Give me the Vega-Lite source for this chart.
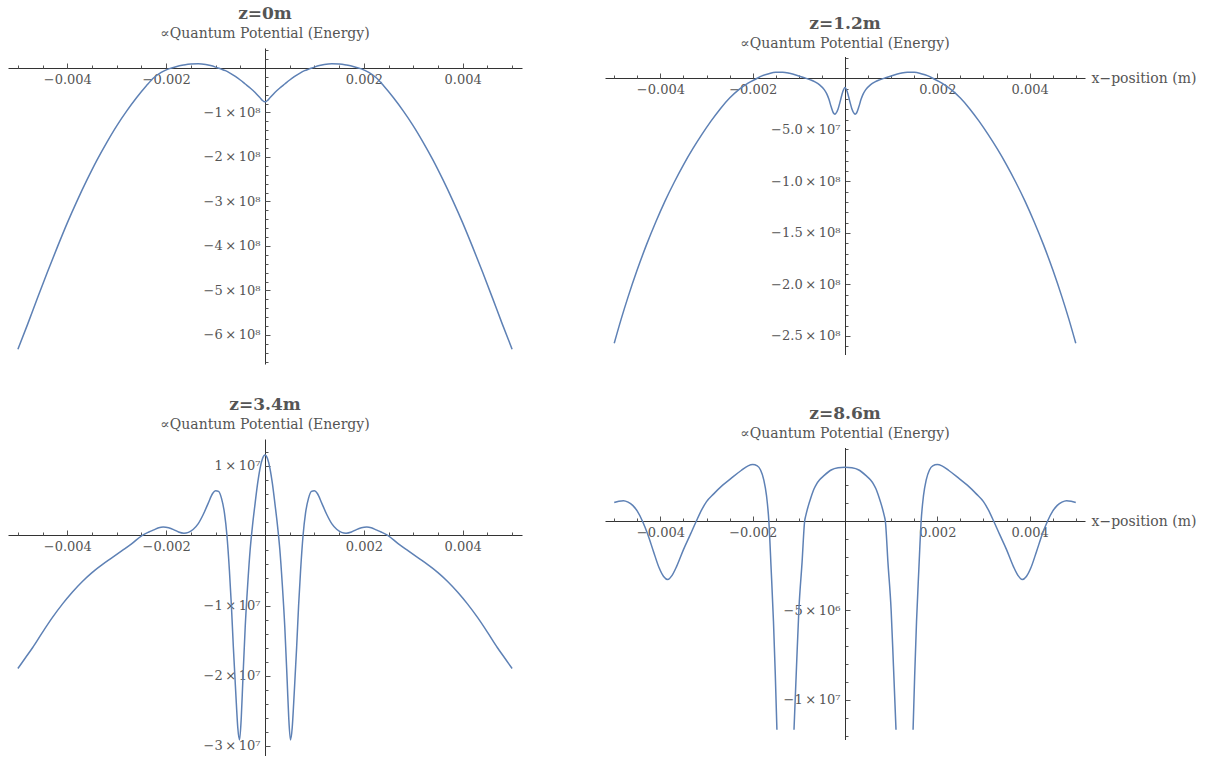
{
  "$schema": "https://vega.github.io/schema/vega-lite/v6.json",
  "background": "white",
  "padding": {"left": 8, "top": 5, "right": 5, "bottom": 0},
  "autosize": {"type": "pad"},
  "bounds": "flush",
  "align": "each",
  "columns": 2,
  "spacing": {"row": 75, "column": 83},
  "datasets": {
    "p1": [
      {"x": -0.005, "y": -6.32e8}, {"x": -0.0048, "y": -5.75e8}, {"x": -0.0046, "y": -5.16e8}, {"x": -0.0044, "y": -4.58e8},
      {"x": -0.0042, "y": -4.02e8}, {"x": -0.004, "y": -3.48e8}, {"x": -0.0038, "y": -2.98e8}, {"x": -0.0036, "y": -2.51e8},
      {"x": -0.0034, "y": -2.07e8}, {"x": -0.0032, "y": -1.67e8}, {"x": -0.003, "y": -1.3e8}, {"x": -0.0028, "y": -9.7e7},
      {"x": -0.0026, "y": -6.7e7}, {"x": -0.0024, "y": -4.0e7}, {"x": -0.00225, "y": -2.2e7}, {"x": -0.0021, "y": -1.0e7},
      {"x": -0.00195, "y": -2.0e6}, {"x": -0.0018, "y": 3.0e6}, {"x": -0.00165, "y": 6.5e6}, {"x": -0.0015, "y": 9.0e6},
      {"x": -0.00135, "y": 9.7e6}, {"x": -0.0012, "y": 8.0e6}, {"x": -0.0011, "y": 5.5e6}, {"x": -0.001, "y": 2.0e6},
      {"x": -0.0009, "y": -2.0e6}, {"x": -0.0008, "y": -6.0e6}, {"x": -0.0007, "y": -1.2e7}, {"x": -0.0006, "y": -1.9e7},
      {"x": -0.0005, "y": -2.7e7}, {"x": -0.0004, "y": -3.6e7}, {"x": -0.0003, "y": -4.5e7}, {"x": -0.0002, "y": -5.5e7},
      {"x": -0.0001, "y": -6.7e7}, {"x": -0.00005, "y": -7.3e7}, {"x": 0, "y": -7.6e7},
      {"x": 0.00005, "y": -7.3e7}, {"x": 0.0001, "y": -6.7e7}, {"x": 0.0002, "y": -5.5e7}, {"x": 0.0003, "y": -4.5e7},
      {"x": 0.0004, "y": -3.6e7}, {"x": 0.0005, "y": -2.7e7}, {"x": 0.0006, "y": -1.9e7}, {"x": 0.0007, "y": -1.2e7},
      {"x": 0.0008, "y": -6.0e6}, {"x": 0.0009, "y": -2.0e6}, {"x": 0.001, "y": 2.0e6}, {"x": 0.0011, "y": 5.5e6},
      {"x": 0.0012, "y": 8.0e6}, {"x": 0.00135, "y": 9.7e6}, {"x": 0.0015, "y": 9.0e6}, {"x": 0.00165, "y": 6.5e6},
      {"x": 0.0018, "y": 3.0e6}, {"x": 0.00195, "y": -2.0e6}, {"x": 0.0021, "y": -1.0e7}, {"x": 0.00225, "y": -2.2e7},
      {"x": 0.0024, "y": -4.0e7}, {"x": 0.0026, "y": -6.7e7}, {"x": 0.0028, "y": -9.7e7}, {"x": 0.003, "y": -1.3e8},
      {"x": 0.0032, "y": -1.67e8}, {"x": 0.0034, "y": -2.07e8}, {"x": 0.0036, "y": -2.51e8}, {"x": 0.0038, "y": -2.98e8},
      {"x": 0.004, "y": -3.48e8}, {"x": 0.0042, "y": -4.02e8}, {"x": 0.0044, "y": -4.58e8}, {"x": 0.0046, "y": -5.16e8},
      {"x": 0.0048, "y": -5.75e8}, {"x": 0.005, "y": -6.32e8}
    ],
    "p2": [
      {"x": -0.005, "y": -2.57e8}, {"x": -0.00485, "y": -2.336e8}, {"x": -0.0047, "y": -2.12e8}, {"x": -0.0045, "y": -1.855e8},
      {"x": -0.0043, "y": -1.613e8}, {"x": -0.0041, "y": -1.393e8}, {"x": -0.0039, "y": -1.19e8}, {"x": -0.0037, "y": -1.007e8},
      {"x": -0.0035, "y": -8.38e7}, {"x": -0.0033, "y": -6.84e7}, {"x": -0.0031, "y": -5.43e7}, {"x": -0.0029, "y": -4.12e7},
      {"x": -0.0027, "y": -2.93e7}, {"x": -0.0025, "y": -1.9e7}, {"x": -0.0023, "y": -1.085e7}, {"x": -0.0021, "y": -4.5e6},
      {"x": -0.00193, "y": -5.0e5}, {"x": -0.0018, "y": 2.5e6}, {"x": -0.00165, "y": 4.7e6}, {"x": -0.0015, "y": 6.0e6},
      {"x": -0.00135, "y": 6.1e6}, {"x": -0.0012, "y": 5.0e6}, {"x": -0.00105, "y": 3.2e6}, {"x": -0.0009, "y": 1.0e6},
      {"x": -0.00075, "y": -1.3e6}, {"x": -0.00065, "y": -3.3e6}, {"x": -0.00055, "y": -6.2e6}, {"x": -0.00045, "y": -1.08e7},
      {"x": -0.0004, "y": -1.45e7}, {"x": -0.00035, "y": -2.0e7}, {"x": -0.0003, "y": -2.75e7}, {"x": -0.00025, "y": -3.35e7},
      {"x": -0.00022, "y": -3.46e7}, {"x": -0.0002, "y": -3.4e7}, {"x": -0.00015, "y": -2.95e7}, {"x": -0.0001, "y": -2.15e7},
      {"x": -0.00005, "y": -1.3e7}, {"x": 0, "y": -8.7e6},
      {"x": 0.00005, "y": -1.3e7}, {"x": 0.0001, "y": -2.15e7}, {"x": 0.00015, "y": -2.95e7}, {"x": 0.0002, "y": -3.4e7},
      {"x": 0.00022, "y": -3.46e7}, {"x": 0.00025, "y": -3.35e7}, {"x": 0.0003, "y": -2.75e7}, {"x": 0.00035, "y": -2.0e7},
      {"x": 0.0004, "y": -1.45e7}, {"x": 0.00045, "y": -1.08e7}, {"x": 0.00055, "y": -6.2e6}, {"x": 0.00065, "y": -3.3e6},
      {"x": 0.00075, "y": -1.3e6}, {"x": 0.0009, "y": 1.0e6}, {"x": 0.00105, "y": 3.2e6}, {"x": 0.0012, "y": 5.0e6},
      {"x": 0.00135, "y": 6.1e6}, {"x": 0.0015, "y": 6.0e6}, {"x": 0.00165, "y": 4.7e6}, {"x": 0.0018, "y": 2.5e6},
      {"x": 0.00193, "y": -5.0e5}, {"x": 0.0021, "y": -4.5e6}, {"x": 0.0023, "y": -1.085e7}, {"x": 0.0025, "y": -1.9e7},
      {"x": 0.0027, "y": -2.93e7}, {"x": 0.0029, "y": -4.12e7}, {"x": 0.0031, "y": -5.43e7}, {"x": 0.0033, "y": -6.84e7},
      {"x": 0.0035, "y": -8.38e7}, {"x": 0.0037, "y": -1.007e8}, {"x": 0.0039, "y": -1.19e8}, {"x": 0.0041, "y": -1.393e8},
      {"x": 0.0043, "y": -1.613e8}, {"x": 0.0045, "y": -1.855e8}, {"x": 0.0047, "y": -2.12e8}, {"x": 0.00485, "y": -2.336e8},
      {"x": 0.005, "y": -2.57e8}
    ],
    "p3": [
      {"x": -0.005, "y": -1.9e7}, {"x": -0.00485, "y": -1.75e7}, {"x": -0.0047, "y": -1.6e7}, {"x": -0.0045, "y": -1.38e7},
      {"x": -0.0043, "y": -1.17e7}, {"x": -0.0041, "y": -9.8e6}, {"x": -0.0039, "y": -8.1e6}, {"x": -0.0037, "y": -6.6e6},
      {"x": -0.0035, "y": -5.3e6}, {"x": -0.0033, "y": -4.2e6}, {"x": -0.0031, "y": -3.2e6}, {"x": -0.0029, "y": -2.2e6},
      {"x": -0.0027, "y": -1.2e6}, {"x": -0.00249, "y": 0}, {"x": -0.00235, "y": 5.0e5}, {"x": -0.00225, "y": 8.0e5},
      {"x": -0.00215, "y": 1.1e6}, {"x": -0.00206, "y": 1.2e6}, {"x": -0.00195, "y": 1.1e6}, {"x": -0.00185, "y": 8.5e5},
      {"x": -0.00175, "y": 5.0e5}, {"x": -0.00164, "y": 3.3e5}, {"x": -0.00155, "y": 4.5e5}, {"x": -0.00145, "y": 9.0e5},
      {"x": -0.00135, "y": 1.7e6}, {"x": -0.00125, "y": 3.0e6}, {"x": -0.00115, "y": 4.6e6}, {"x": -0.00106, "y": 6.0e6},
      {"x": -0.001, "y": 6.4e6}, {"x": -0.00094, "y": 6.3e6}, {"x": -0.00088, "y": 5.3e6}, {"x": -0.00082, "y": 3.2e6},
      {"x": -0.00077, "y": 0}, {"x": -0.00072, "y": -5.0e6}, {"x": -0.00068, "y": -1.0e7}, {"x": -0.00064, "y": -1.6e7},
      {"x": -0.00061, "y": -2.0e7}, {"x": -0.00058, "y": -2.4e7}, {"x": -0.00055, "y": -2.75e7}, {"x": -0.000515, "y": -2.92e7},
      {"x": -0.00048, "y": -2.6e7}, {"x": -0.00045, "y": -2.1e7}, {"x": -0.0004, "y": -1.3e7}, {"x": -0.00035, "y": -7.0e6},
      {"x": -0.0003, "y": -2.0e6}, {"x": -0.00025, "y": 1.6e6}, {"x": -0.0002, "y": 4.6e6}, {"x": -0.00015, "y": 7.4e6},
      {"x": -0.0001, "y": 9.6e6}, {"x": -0.00005, "y": 1.1e7}, {"x": 0, "y": 1.15e7},
      {"x": 0.00005, "y": 1.1e7}, {"x": 0.0001, "y": 9.6e6}, {"x": 0.00015, "y": 7.4e6}, {"x": 0.0002, "y": 4.6e6},
      {"x": 0.00025, "y": 1.6e6}, {"x": 0.0003, "y": -2.0e6}, {"x": 0.00035, "y": -7.0e6}, {"x": 0.0004, "y": -1.3e7},
      {"x": 0.00045, "y": -2.1e7}, {"x": 0.00048, "y": -2.6e7}, {"x": 0.000515, "y": -2.92e7}, {"x": 0.00055, "y": -2.75e7},
      {"x": 0.00058, "y": -2.4e7}, {"x": 0.00061, "y": -2.0e7}, {"x": 0.00064, "y": -1.6e7}, {"x": 0.00068, "y": -1.0e7},
      {"x": 0.00072, "y": -5.0e6}, {"x": 0.00077, "y": 0}, {"x": 0.00082, "y": 3.2e6}, {"x": 0.00088, "y": 5.3e6},
      {"x": 0.00094, "y": 6.3e6}, {"x": 0.001, "y": 6.4e6}, {"x": 0.00106, "y": 6.0e6}, {"x": 0.00115, "y": 4.6e6},
      {"x": 0.00125, "y": 3.0e6}, {"x": 0.00135, "y": 1.7e6}, {"x": 0.00145, "y": 9.0e5}, {"x": 0.00155, "y": 4.5e5},
      {"x": 0.00164, "y": 3.3e5}, {"x": 0.00175, "y": 5.0e5}, {"x": 0.00185, "y": 8.5e5}, {"x": 0.00195, "y": 1.1e6},
      {"x": 0.00206, "y": 1.2e6}, {"x": 0.00215, "y": 1.1e6}, {"x": 0.00225, "y": 8.0e5}, {"x": 0.00235, "y": 5.0e5},
      {"x": 0.00249, "y": 0}, {"x": 0.0027, "y": -1.2e6}, {"x": 0.0029, "y": -2.2e6}, {"x": 0.0031, "y": -3.2e6},
      {"x": 0.0033, "y": -4.2e6}, {"x": 0.0035, "y": -5.3e6}, {"x": 0.0037, "y": -6.6e6}, {"x": 0.0039, "y": -8.1e6},
      {"x": 0.0041, "y": -9.8e6}, {"x": 0.0043, "y": -1.17e7}, {"x": 0.0045, "y": -1.38e7}, {"x": 0.0047, "y": -1.6e7},
      {"x": 0.00485, "y": -1.75e7}, {"x": 0.005, "y": -1.9e7}
    ],
    "p4": [
      {"s": "a", "x": -0.005, "y": 1.03e6}, {"s": "a", "x": -0.0049, "y": 1.1e6}, {"s": "a", "x": -0.0048, "y": 1.13e6},
      {"s": "a", "x": -0.0047, "y": 1.05e6}, {"s": "a", "x": -0.0046, "y": 8.7e5}, {"s": "a", "x": -0.0045, "y": 5.5e5},
      {"s": "a", "x": -0.00439, "y": 0}, {"s": "a", "x": -0.00428, "y": -7.0e5}, {"s": "a", "x": -0.00415, "y": -1.7e6},
      {"s": "a", "x": -0.00403, "y": -2.6e6}, {"s": "a", "x": -0.00393, "y": -3.1e6}, {"s": "a", "x": -0.00384, "y": -3.27e6},
      {"s": "a", "x": -0.00375, "y": -3.05e6}, {"s": "a", "x": -0.00365, "y": -2.55e6}, {"s": "a", "x": -0.0035, "y": -1.6e6},
      {"s": "a", "x": -0.00335, "y": -7.5e5}, {"s": "a", "x": -0.00322, "y": 0}, {"s": "a", "x": -0.0031, "y": 6.5e5},
      {"s": "a", "x": -0.003, "y": 1.08e6}, {"s": "a", "x": -0.00285, "y": 1.5e6}, {"s": "a", "x": -0.00265, "y": 2.0e6},
      {"s": "a", "x": -0.00245, "y": 2.42e6}, {"s": "a", "x": -0.00225, "y": 2.82e6}, {"s": "a", "x": -0.0021, "y": 3.08e6},
      {"s": "a", "x": -0.002, "y": 3.15e6}, {"s": "a", "x": -0.0019, "y": 3.08e6}, {"s": "a", "x": -0.00183, "y": 2.85e6},
      {"s": "a", "x": -0.00176, "y": 2.3e6}, {"s": "a", "x": -0.0017, "y": 1.4e6}, {"s": "a", "x": -0.00165, "y": 0},
      {"s": "a", "x": -0.0016, "y": -2.7e6}, {"s": "a", "x": -0.00155, "y": -5.6e6}, {"s": "a", "x": -0.00151, "y": -8.6e6},
      {"s": "a", "x": -0.001475, "y": -1.166e7},
      {"s": "b", "x": -0.001105, "y": -1.166e7}, {"s": "b", "x": -0.00105, "y": -8.1e6}, {"s": "b", "x": -0.001, "y": -5.0e6},
      {"s": "b", "x": -0.00093, "y": -2.3e6}, {"s": "b", "x": -0.000874, "y": 0}, {"s": "b", "x": -0.00085, "y": 3.0e5},
      {"s": "b", "x": -0.0008, "y": 8.0e5}, {"s": "b", "x": -0.00074, "y": 1.3e6}, {"s": "b", "x": -0.00067, "y": 1.8e6},
      {"s": "b", "x": -0.00062, "y": 2.05e6}, {"s": "b", "x": -0.00055, "y": 2.3e6}, {"s": "b", "x": -0.00045, "y": 2.55e6},
      {"s": "b", "x": -0.0003, "y": 2.85e6}, {"s": "b", "x": -0.00015, "y": 2.97e6}, {"s": "b", "x": 0, "y": 3.0e6},
      {"s": "b", "x": 0.00015, "y": 2.97e6}, {"s": "b", "x": 0.0003, "y": 2.85e6}, {"s": "b", "x": 0.00045, "y": 2.55e6},
      {"s": "b", "x": 0.00055, "y": 2.3e6}, {"s": "b", "x": 0.00062, "y": 2.05e6}, {"s": "b", "x": 0.00067, "y": 1.8e6},
      {"s": "b", "x": 0.00074, "y": 1.3e6}, {"s": "b", "x": 0.0008, "y": 8.0e5}, {"s": "b", "x": 0.00085, "y": 3.0e5},
      {"s": "b", "x": 0.000874, "y": 0}, {"s": "b", "x": 0.00093, "y": -2.3e6}, {"s": "b", "x": 0.001, "y": -5.0e6},
      {"s": "b", "x": 0.00105, "y": -8.1e6}, {"s": "b", "x": 0.001105, "y": -1.166e7},
      {"s": "c", "x": 0.001475, "y": -1.166e7}, {"s": "c", "x": 0.00151, "y": -8.6e6}, {"s": "c", "x": 0.00155, "y": -5.6e6},
      {"s": "c", "x": 0.0016, "y": -2.7e6}, {"s": "c", "x": 0.00165, "y": 0}, {"s": "c", "x": 0.0017, "y": 1.4e6},
      {"s": "c", "x": 0.00176, "y": 2.3e6}, {"s": "c", "x": 0.00183, "y": 2.85e6}, {"s": "c", "x": 0.0019, "y": 3.08e6},
      {"s": "c", "x": 0.002, "y": 3.15e6}, {"s": "c", "x": 0.0021, "y": 3.08e6}, {"s": "c", "x": 0.00225, "y": 2.82e6},
      {"s": "c", "x": 0.00245, "y": 2.42e6}, {"s": "c", "x": 0.00265, "y": 2.0e6}, {"s": "c", "x": 0.00285, "y": 1.5e6},
      {"s": "c", "x": 0.003, "y": 1.08e6}, {"s": "c", "x": 0.0031, "y": 6.5e5}, {"s": "c", "x": 0.00322, "y": 0},
      {"s": "c", "x": 0.00335, "y": -7.5e5}, {"s": "c", "x": 0.0035, "y": -1.6e6}, {"s": "c", "x": 0.00365, "y": -2.55e6},
      {"s": "c", "x": 0.00375, "y": -3.05e6}, {"s": "c", "x": 0.00384, "y": -3.27e6}, {"s": "c", "x": 0.00393, "y": -3.1e6},
      {"s": "c", "x": 0.00403, "y": -2.6e6}, {"s": "c", "x": 0.00415, "y": -1.7e6}, {"s": "c", "x": 0.00428, "y": -7.0e5},
      {"s": "c", "x": 0.00439, "y": 0}, {"s": "c", "x": 0.0045, "y": 5.5e5}, {"s": "c", "x": 0.0046, "y": 8.7e5},
      {"s": "c", "x": 0.0047, "y": 1.05e6}, {"s": "c", "x": 0.0048, "y": 1.13e6}, {"s": "c", "x": 0.0049, "y": 1.1e6},
      {"s": "c", "x": 0.005, "y": 1.03e6}
    ]
  },
  "concat": [
    {
      "width": 514, "height": 316,
      "data": {"name": "p1"},
      "title": {"text": "z=0m", "subtitle": "∝Quantum Potential (Energy)"},
      "resolve": {"axis": {"x": "independent", "y": "independent"}},
      "layer": [
        {
          "mark": {"type": "line", "color": "#5E81B5", "strokeWidth": 1.5, "interpolate": "monotone", "clip": true},
          "encoding": {
            "x": {"field": "x", "type": "quantitative", "scale": {"domain": [-0.0052, 0.0052], "nice": false, "zero": false},
                  "axis": {"orient": "bottom", "offset": -296, "values": [-0.004, -0.002, 0.002, 0.004], "format": ".3f", "ticks": false, "labelPadding": 5, "title": null}},
            "y": {"field": "y", "type": "quantitative", "scale": {"domain": [-6.652e8, 4.494e7], "nice": false, "zero": false},
                  "axis": {"orient": "left", "offset": -257, "values": [-1e8, -2e8, -3e8, -4e8, -5e8, -6e8], "labelExpr": "format(datum.value / 1e8, 'd') + '\u2009×\u200910⁸'", "ticks": false, "labelPadding": 5, "title": null}}
          }
        },
        {
          "mark": {"type": "line", "opacity": 0},
          "encoding": {
            "x": {"field": "x", "type": "quantitative", "scale": {"domain": [-0.0052, 0.0052], "nice": false, "zero": false},
                  "axis": {"orient": "bottom", "offset": -296, "values": [-0.004, -0.002, 0.002, 0.004], "labels": false, "domain": false, "tickSize": -5, "title": null}},
            "y": {"field": "y", "type": "quantitative", "scale": {"domain": [-6.652e8, 4.494e7], "nice": false, "zero": false},
                  "axis": {"orient": "left", "offset": -257, "values": [-1e8, -2e8, -3e8, -4e8, -5e8, -6e8], "labels": false, "domain": false, "tickSize": -5, "title": null}}
          }
        },
        {
          "mark": {"type": "line", "opacity": 0},
          "encoding": {
            "x": {"field": "x", "type": "quantitative", "scale": {"domain": [-0.0052, 0.0052], "nice": false, "zero": false},
                  "axis": {"orient": "bottom", "offset": -296, "values": [-0.005, -0.0045, -0.0035, -0.003, -0.0025, -0.0015, -0.001, -0.0005, 0.0005, 0.001, 0.0015, 0.0025, 0.003, 0.0035, 0.0045, 0.005], "labels": false, "domain": false, "tickSize": -3, "title": null}},
            "y": {"field": "y", "type": "quantitative", "scale": {"domain": [-6.652e8, 4.494e7], "nice": false, "zero": false},
                  "axis": {"orient": "left", "offset": -257, "values": [4e7, 2e7, -2e7, -4e7, -6e7, -8e7, -1.2e8, -1.4e8, -1.6e8, -1.8e8, -2.2e8, -2.4e8, -2.6e8, -2.8e8, -3.2e8, -3.4e8, -3.6e8, -3.8e8, -4.2e8, -4.4e8, -4.6e8, -4.8e8, -5.2e8, -5.4e8, -5.6e8, -5.8e8, -6.2e8, -6.4e8, -6.6e8], "labels": false, "domain": false, "tickSize": -3, "title": null}}
          }
        }
      ]
    },
    {
      "width": 480, "height": 307,
      "data": {"name": "p2"},
      "title": {"text": "z=1.2m", "subtitle": "∝Quantum Potential (Energy)", "offset": -4},
      "resolve": {"axis": {"x": "independent", "y": "independent"}},
      "layer": [
        {
          "mark": {"type": "rule", "color": "#333333", "strokeWidth": 1, "xOffset": 0.5},
          "encoding": {
            "x": {"datum": 0, "type": "quantitative", "scale": {"domain": [-0.0052, 0.0052], "nice": false, "zero": false}, "axis": null},
            "y": {"datum": 2e7, "type": "quantitative", "scale": {"domain": [-2.6845e8, 2.961e7], "nice": false, "zero": false}, "axis": null},
            "y2": {"datum": -2.6845e8}
          }
        },
        {
          "mark": {"type": "line", "color": "#5E81B5", "strokeWidth": 1.5, "interpolate": "monotone", "clip": true},
          "encoding": {
            "x": {"field": "x", "type": "quantitative", "scale": {"domain": [-0.0052, 0.0052], "nice": false, "zero": false},
                  "axis": {"orient": "bottom", "offset": -277, "values": [-0.004, -0.002, 0.002, 0.004], "format": ".3f", "ticks": false, "labelPadding": 5,
                           "title": "x−position (m)", "titleX": 486, "titleY": 0, "titleAlign": "left", "titleBaseline": "middle", "titleAngle": 0}},
            "y": {"field": "y", "type": "quantitative", "scale": {"domain": [-2.6845e8, 2.961e7], "nice": false, "zero": false},
                  "axis": {"orient": "left", "offset": -240, "values": [-5e7, -1e8, -1.5e8, -2e8, -2.5e8], "labelExpr": "datum.value == -5e7 ? '\u22125.0\u2009×\u200910⁷' : format(datum.value / 1e8, '.1f') + '\u2009×\u200910⁸'", "ticks": false, "domain": false, "labelPadding": 5, "title": null}}
          }
        },
        {
          "mark": {"type": "line", "opacity": 0},
          "encoding": {
            "x": {"field": "x", "type": "quantitative", "scale": {"domain": [-0.0052, 0.0052], "nice": false, "zero": false},
                  "axis": {"orient": "bottom", "offset": -277, "values": [-0.004, -0.002, 0.002, 0.004], "labels": false, "domain": false, "tickSize": -5, "title": null}},
            "y": {"field": "y", "type": "quantitative", "scale": {"domain": [-2.6845e8, 2.961e7], "nice": false, "zero": false},
                  "axis": {"orient": "left", "offset": -240, "values": [-5e7, -1e8, -1.5e8, -2e8, -2.5e8], "labels": false, "domain": false, "tickSize": -5, "title": null}}
          }
        },
        {
          "mark": {"type": "line", "opacity": 0},
          "encoding": {
            "x": {"field": "x", "type": "quantitative", "scale": {"domain": [-0.0052, 0.0052], "nice": false, "zero": false},
                  "axis": {"orient": "bottom", "offset": -277, "values": [-0.005, -0.0045, -0.0035, -0.003, -0.0025, -0.0015, -0.001, -0.0005, 0.0005, 0.001, 0.0015, 0.0025, 0.003, 0.0035, 0.0045, 0.005], "labels": false, "domain": false, "tickSize": -3, "title": null}},
            "y": {"field": "y", "type": "quantitative", "scale": {"domain": [-2.6845e8, 2.961e7], "nice": false, "zero": false},
                  "axis": {"orient": "left", "offset": -240, "values": [2e7, 1e7, -1e7, -2e7, -3e7, -4e7, -6e7, -7e7, -8e7, -9e7, -1.1e8, -1.2e8, -1.3e8, -1.4e8, -1.6e8, -1.7e8, -1.8e8, -1.9e8, -2.1e8, -2.2e8, -2.3e8, -2.4e8, -2.6e8], "labels": false, "domain": false, "tickSize": -3, "title": null}}
          }
        }
      ]
    },
    {
      "width": 514, "height": 317,
      "data": {"name": "p3"},
      "title": {"text": "z=3.4m", "subtitle": "∝Quantum Potential (Energy)"},
      "resolve": {"axis": {"x": "independent", "y": "independent"}},
      "layer": [
        {
          "mark": {"type": "line", "color": "#5E81B5", "strokeWidth": 1.5, "interpolate": "monotone", "clip": true},
          "encoding": {
            "x": {"field": "x", "type": "quantitative", "scale": {"domain": [-0.0052, 0.0052], "nice": false, "zero": false},
                  "axis": {"orient": "bottom", "offset": -221, "values": [-0.004, -0.002, 0.002, 0.004], "format": ".3f", "ticks": false, "labelPadding": 5, "title": null}},
            "y": {"field": "y", "type": "quantitative", "scale": {"domain": [-3.15e7, 1.379e7], "nice": false, "zero": false},
                  "axis": {"orient": "left", "offset": -257, "values": [1e7, -1e7, -2e7, -3e7], "labelExpr": "format(datum.value / 1e7, 'd') + '\u2009×\u200910⁷'", "ticks": false, "labelPadding": 5, "title": null}}
          }
        },
        {
          "mark": {"type": "line", "opacity": 0},
          "encoding": {
            "x": {"field": "x", "type": "quantitative", "scale": {"domain": [-0.0052, 0.0052], "nice": false, "zero": false},
                  "axis": {"orient": "bottom", "offset": -221, "values": [-0.004, -0.002, 0.002, 0.004], "labels": false, "domain": false, "tickSize": -5, "title": null}},
            "y": {"field": "y", "type": "quantitative", "scale": {"domain": [-3.15e7, 1.379e7], "nice": false, "zero": false},
                  "axis": {"orient": "left", "offset": -257, "values": [1e7, -1e7, -2e7, -3e7], "labels": false, "domain": false, "tickSize": -5, "title": null}}
          }
        },
        {
          "mark": {"type": "line", "opacity": 0},
          "encoding": {
            "x": {"field": "x", "type": "quantitative", "scale": {"domain": [-0.0052, 0.0052], "nice": false, "zero": false},
                  "axis": {"orient": "bottom", "offset": -221, "values": [-0.005, -0.0045, -0.0035, -0.003, -0.0025, -0.0015, -0.001, -0.0005, 0.0005, 0.001, 0.0015, 0.0025, 0.003, 0.0035, 0.0045, 0.005], "labels": false, "domain": false, "tickSize": -3, "title": null}},
            "y": {"field": "y", "type": "quantitative", "scale": {"domain": [-3.15e7, 1.379e7], "nice": false, "zero": false},
                  "axis": {"orient": "left", "offset": -257, "values": [1.2e7, 8e6, 6e6, 4e6, 2e6, -2e6, -4e6, -6e6, -8e6, -1.2e7, -1.4e7, -1.6e7, -1.8e7, -2.2e7, -2.4e7, -2.6e7, -2.8e7], "labels": false, "domain": false, "tickSize": -3, "title": null}}
          }
        }
      ]
    },
    {
      "width": 480, "height": 301,
      "data": {"name": "p4"},
      "title": {"text": "z=8.6m", "subtitle": "∝Quantum Potential (Energy)", "offset": -3},
      "resolve": {"axis": {"x": "independent", "y": "independent"}},
      "layer": [
        {
          "mark": {"type": "rule", "color": "#333333", "strokeWidth": 1, "xOffset": 0.5},
          "encoding": {
            "x": {"datum": 0, "type": "quantitative", "scale": {"domain": [-0.0052, 0.0052], "nice": false, "zero": false}, "axis": null},
            "y": {"datum": 4.06e6, "type": "quantitative", "scale": {"domain": [-1.2235e7, 4.58e6], "nice": false, "zero": false}, "axis": null},
            "y2": {"datum": -1.2235e7}
          }
        },
        {
          "mark": {"type": "line", "color": "#5E81B5", "strokeWidth": 1.5, "interpolate": "monotone", "clip": true},
          "encoding": {
            "x": {"field": "x", "type": "quantitative", "scale": {"domain": [-0.0052, 0.0052], "nice": false, "zero": false},
                  "axis": {"orient": "bottom", "offset": -219, "values": [-0.004, -0.002, 0.002, 0.004], "format": ".3f", "ticks": false, "labelPadding": 5,
                           "title": "x−position (m)", "titleX": 486, "titleY": 0, "titleAlign": "left", "titleBaseline": "middle", "titleAngle": 0}},
            "y": {"field": "y", "type": "quantitative", "scale": {"domain": [-1.2235e7, 4.58e6], "nice": false, "zero": false},
                  "axis": {"orient": "left", "offset": -240, "values": [-5e6, -1e7], "labelExpr": "datum.value == -5e6 ? '\u22125\u2009×\u200910⁶' : '\u22121\u2009×\u200910⁷'", "ticks": false, "domain": false, "labelPadding": 5, "title": null}},
            "detail": {"field": "s", "type": "nominal"}
          }
        },
        {
          "mark": {"type": "line", "opacity": 0},
          "encoding": {
            "x": {"field": "x", "type": "quantitative", "scale": {"domain": [-0.0052, 0.0052], "nice": false, "zero": false},
                  "axis": {"orient": "bottom", "offset": -219, "values": [-0.004, -0.002, 0.002, 0.004], "labels": false, "domain": false, "tickSize": -5, "title": null}},
            "y": {"field": "y", "type": "quantitative", "scale": {"domain": [-1.2235e7, 4.58e6], "nice": false, "zero": false},
                  "axis": {"orient": "left", "offset": -240, "values": [-5e6, -1e7], "labels": false, "domain": false, "tickSize": -5, "title": null}},
            "detail": {"field": "s", "type": "nominal"}
          }
        },
        {
          "mark": {"type": "line", "opacity": 0},
          "encoding": {
            "x": {"field": "x", "type": "quantitative", "scale": {"domain": [-0.0052, 0.0052], "nice": false, "zero": false},
                  "axis": {"orient": "bottom", "offset": -219, "values": [-0.005, -0.0045, -0.0035, -0.003, -0.0025, -0.0015, -0.001, -0.0005, 0.0005, 0.001, 0.0015, 0.0025, 0.003, 0.0035, 0.0045, 0.005], "labels": false, "domain": false, "tickSize": -3, "title": null}},
            "y": {"field": "y", "type": "quantitative", "scale": {"domain": [-1.2235e7, 4.58e6], "nice": false, "zero": false},
                  "axis": {"orient": "left", "offset": -240, "values": [4e6, 3e6, 2e6, 1e6, -1e6, -2e6, -3e6, -4e6, -6e6, -7e6, -8e6, -9e6, -1.1e7, -1.2e7], "labels": false, "domain": false, "tickSize": -3, "title": null}},
            "detail": {"field": "s", "type": "nominal"}
          }
        }
      ]
    }
  ],
  "config": {
    "view": {"stroke": null},
    "axis": {
      "grid": false,
      "labelFont": "DejaVu Serif", "labelFontSize": 13, "labelColor": "#555555",
      "labelOverlap": false, "labelFlush": false,
      "domainColor": "#333333", "domainWidth": 1,
      "tickColor": "#555555", "tickWidth": 1,
      "titleFont": "DejaVu Serif", "titleFontSize": 14, "titleFontWeight": "normal", "titleColor": "#555555"
    },
    "title": {
      "font": "DejaVu Serif", "fontSize": 17, "fontWeight": "bold", "color": "#555555",
      "subtitleFont": "DejaVu Serif", "subtitleFontSize": 14, "subtitleColor": "#555555",
      "subtitlePadding": 4, "anchor": "middle", "frame": "group", "offset": 6
    }
  }
}
